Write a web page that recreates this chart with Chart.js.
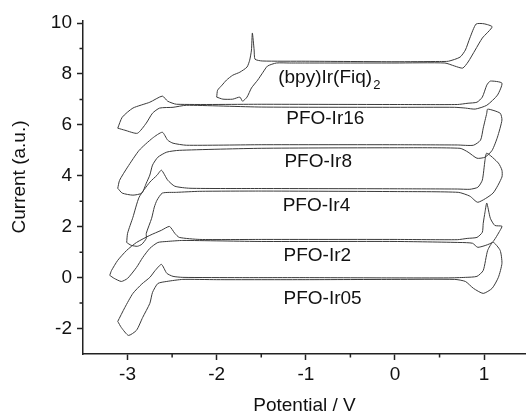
<!DOCTYPE html>
<html>
<head>
<meta charset="utf-8">
<script src="https://cdn.jsdelivr.net/npm/chart.js@4.4.0/dist/chart.umd.min.js"></script>
<style>
  body { margin: 0; background: #fff; }
</style>
</head>
<body>
<canvas id="cvChart" width="526" height="415"></canvas>
<script>
// potential (V), current (a.u.) -- each loop traced round once
var bpyIr = [[-2.00,7.09],[-1.99,7.36],[-1.94,7.56],[-1.89,7.76],[-1.82,7.95],[-1.74,8.07],[-1.66,8.27],[-1.63,8.54],[-1.61,8.94],[-1.60,9.61],[-1.58,8.94],[-1.57,8.58],[-1.49,8.51],[-1.0,8.50],[0,8.48],[0.5,8.49],[0.60,8.50],[0.73,8.66],[0.79,8.94],[0.84,9.41],[0.91,9.96],[1.00,9.97],[1.09,9.85],[0.98,9.41],[0.90,8.94],[0.82,8.47],[0.76,8.23],[0.67,8.31],[0.56,8.43],[0,8.43],[-1.0,8.43],[-1.18,8.43],[-1.33,8.43],[-1.43,8.31],[-1.48,8.07],[-1.54,7.76],[-1.61,7.45],[-1.66,7.09],[-1.71,6.93],[-1.74,7.09],[-1.82,7.01],[-1.93,7.01],[-2.00,7.09]];
var pfoIr16 = [[-3.11,5.87],[-3.06,6.30],[-2.94,6.66],[-2.75,6.89],[-2.61,7.13],[-2.55,6.93],[-2.45,6.81],[-1.5,6.81],[0,6.80],[0.7,6.80],[0.82,6.85],[0.92,6.89],[0.98,7.09],[1.03,7.56],[1.07,7.72],[1.20,7.64],[1.15,7.17],[1.03,6.77],[0.90,6.62],[0.79,6.66],[0.67,6.69],[0,6.69],[-1.5,6.70],[-2.34,6.77],[-2.49,6.69],[-2.64,6.66],[-2.72,6.46],[-2.79,6.07],[-2.89,5.67],[-3.03,5.79],[-3.11,5.87]];
var pfoIr8 = [[-3.11,3.51],[-3.09,3.82],[-3.00,4.34],[-2.87,5.00],[-2.72,5.48],[-2.61,5.71],[-2.55,5.40],[-2.49,5.28],[-2.34,5.20],[-1.5,5.22],[0,5.22],[0.7,5.21],[0.88,5.20],[0.96,5.40],[0.99,5.87],[1.03,6.46],[1.04,6.62],[1.18,6.46],[1.20,6.19],[1.15,5.52],[1.09,5.00],[1.01,4.73],[0.92,4.69],[0.82,4.93],[0.73,5.08],[0,5.10],[-1.5,5.08],[-2.42,5.00],[-2.56,4.93],[-2.66,4.73],[-2.72,4.42],[-2.75,4.03],[-2.79,3.71],[-2.84,3.32],[-2.94,3.24],[-3.06,3.32],[-3.11,3.51]];
var pfoIr4 = [[-3.01,1.38],[-3.00,1.74],[-2.94,2.37],[-2.87,3.16],[-2.75,3.75],[-2.67,4.02],[-2.62,4.22],[-2.55,3.83],[-2.47,3.59],[-2.30,3.51],[-1.5,3.50],[0,3.49],[0.7,3.48],[0.84,3.47],[0.93,3.55],[0.98,3.83],[1.01,4.61],[1.03,4.89],[1.16,4.50],[1.20,4.22],[1.20,3.95],[1.10,3.32],[0.93,2.96],[0.84,3.20],[0.71,3.35],[0,3.38],[-1.5,3.40],[-2.19,3.39],[-2.45,3.35],[-2.61,3.32],[-2.67,3.04],[-2.70,2.77],[-2.73,2.33],[-2.79,1.74],[-2.79,1.54],[-2.84,1.31],[-2.89,1.23],[-2.96,1.27],[-3.01,1.38]];
var pfoIr2 = [[-3.20,0.09],[-3.18,0.28],[-3.11,0.68],[-3.01,1.07],[-2.90,1.38],[-2.75,1.66],[-2.62,1.86],[-2.53,2.01],[-2.47,1.74],[-2.42,1.58],[-2.19,1.50],[-1.5,1.50],[0,1.50],[0.7,1.49],[0.81,1.54],[0.92,1.58],[0.98,1.78],[0.99,2.13],[1.01,2.57],[1.03,2.93],[1.07,2.33],[1.12,2.05],[1.20,2.02],[1.18,1.86],[1.09,1.38],[0.93,1.19],[0.87,1.35],[0.73,1.38],[0,1.42],[-1.5,1.42],[-2.38,1.46],[-2.56,1.42],[-2.66,1.38],[-2.75,1.15],[-2.83,0.79],[-2.90,0.40],[-3.00,-0.03],[-3.07,-0.15],[-3.15,-0.03],[-3.20,0.09]];
var pfoIr05 = [[-3.11,-1.72],[-3.03,-1.17],[-2.94,-0.62],[-2.84,-0.25],[-2.75,0.01],[-2.69,0.28],[-2.62,0.52],[-2.56,0.17],[-2.49,0.05],[-2.38,0.01],[-1.74,0.0],[-1.0,0.0],[0,-0.01],[0.6,-0.01],[0.79,0.01],[0.92,0.05],[0.99,0.28],[1.04,1.07],[1.10,1.39],[1.18,1.07],[1.20,0.56],[1.16,0.01],[1.09,-0.42],[0.99,-0.62],[0.88,-0.42],[0.79,-0.15],[0.67,-0.07],[0,-0.07],[-1.0,-0.08],[-2.0,-0.08],[-2.38,-0.07],[-2.56,-0.15],[-2.66,-0.23],[-2.72,-0.58],[-2.75,-1.01],[-2.83,-1.56],[-2.90,-2.07],[-2.99,-2.27],[-3.07,-1.96],[-3.11,-1.72]];

var curves = [bpyIr, pfoIr16, pfoIr8, pfoIr4, pfoIr2, pfoIr05];
var curveNames = ["(bpy)Ir(Fiq)2", "PFO-Ir16", "PFO-Ir8", "PFO-Ir4", "PFO-Ir2", "PFO-Ir05"];

var xTicks = [-3, -2, -1, 0, 1];
var yTicks = [-2, 0, 2, 4, 6, 8, 10];
var xMinor = [-2.5, -1.5, -0.5, 0.5];
var yMinor = [-1, 1, 3, 5, 7, 9];

// where each curve name sits (left edge, baseline) in axis units
var labelX = [-1.31, -1.22, -1.24, -1.26, -1.25, -1.25];
var labelY = [7.64, 6.03, 4.34, 2.61, 0.64, -1.05];

var FONT = "'Liberation Sans', Arial, sans-serif";
var INK = '#222';

var extras = {
    id: 'extras',
    afterDraw: function(chart) {
        var ctx = chart.ctx, x = chart.scales.x, y = chart.scales.y;
        ctx.save();
        // minor ticks
        ctx.strokeStyle = INK;
        ctx.lineWidth = 1.5;
        ctx.beginPath();
        xMinor.forEach(function(v) {
            var px = x.getPixelForValue(v);
            ctx.moveTo(px, x.top);
            ctx.lineTo(px, x.top + 3.5);
        });
        yMinor.forEach(function(v) {
            var py = y.getPixelForValue(v);
            ctx.moveTo(y.right, py);
            ctx.lineTo(y.right - 3.5, py);
        });
        ctx.stroke();

        // curve names
        ctx.fillStyle = '#111';
        ctx.textBaseline = 'alphabetic';
        ctx.textAlign = 'left';
        curveNames.forEach(function(name, i) {
            var px = x.getPixelForValue(labelX[i]);
            var py = y.getPixelForValue(labelY[i]);
            ctx.font = '19px ' + FONT;
            var sub = name.match(/^(.*\))(\d)$/);
            if (sub) {
                ctx.fillText(sub[1], px, py);
                var w = ctx.measureText(sub[1]).width;
                ctx.font = '13px ' + FONT;
                ctx.fillText(sub[2], px + w + 1, py + 6);
            } else {
                ctx.fillText(name, px, py);
            }
        });

        // y axis title, sits a little above the middle of the axis
        ctx.font = '19px ' + FONT;
        ctx.textAlign = 'center';
        ctx.textBaseline = 'middle';
        ctx.translate(20, 177);
        ctx.rotate(-Math.PI / 2);
        ctx.fillText('Current (a.u.)', 0, 0);
        ctx.restore();
    }
};

var ctx = document.getElementById('cvChart').getContext('2d');

var cvChart = new Chart(ctx, {
    type: 'scatter',
    data: {
        datasets: curves.map(function(c, i) {
            return {
                label: curveNames[i],
                data: c.map(function(p) { return {x: p[0], y: p[1]}; }),
                showLine: true,
                borderColor: '#3a3a3a',
                borderWidth: 1,
                pointRadius: 0,
                tension: 0.2,
                fill: false
            };
        })
    },
    options: {
        responsive: false,
        animation: false,
        layout: { padding: { top: 21, right: 0, left: 0, bottom: 0 } },
        plugins: {
            legend: { display: false },
            tooltip: { enabled: false }
        },
        scales: {
            x: {
                type: 'linear',
                min: -3.5,
                max: 1.47,
                afterBuildTicks: function(s) { s.ticks = xTicks.map(function(v) { return {value: v}; }); },
                afterFit: function(s) { s.height = 61; },
                ticks: {
                    color: '#111',
                    font: { family: FONT, size: 19 },
                    padding: 3,
                    maxRotation: 0
                },
                grid: { drawOnChartArea: false, tickLength: 6, tickWidth: 1.5, tickColor: INK },
                border: { display: true, color: INK, width: 1.5 },
                title: {
                    display: true,
                    text: 'Potential / V',
                    color: '#111',
                    font: { family: FONT, size: 19, lineHeight: 1 },
                    padding: { top: 0, bottom: 0 }
                }
            },
            y: {
                type: 'linear',
                min: -3,
                max: 10.08,
                afterBuildTicks: function(s) { s.ticks = yTicks.map(function(v) { return {value: v}; }); },
                afterFit: function(s) { s.width = 83; },
                ticks: {
                    color: '#111',
                    font: { family: FONT, size: 19 },
                    padding: 5
                },
                grid: { drawOnChartArea: false, tickLength: 6, tickWidth: 1.5, tickColor: INK },
                border: { display: true, color: INK, width: 1.5 },
                title: { display: false }
            }
        }
    },
    plugins: [extras]
});
</script>
</body>
</html>
